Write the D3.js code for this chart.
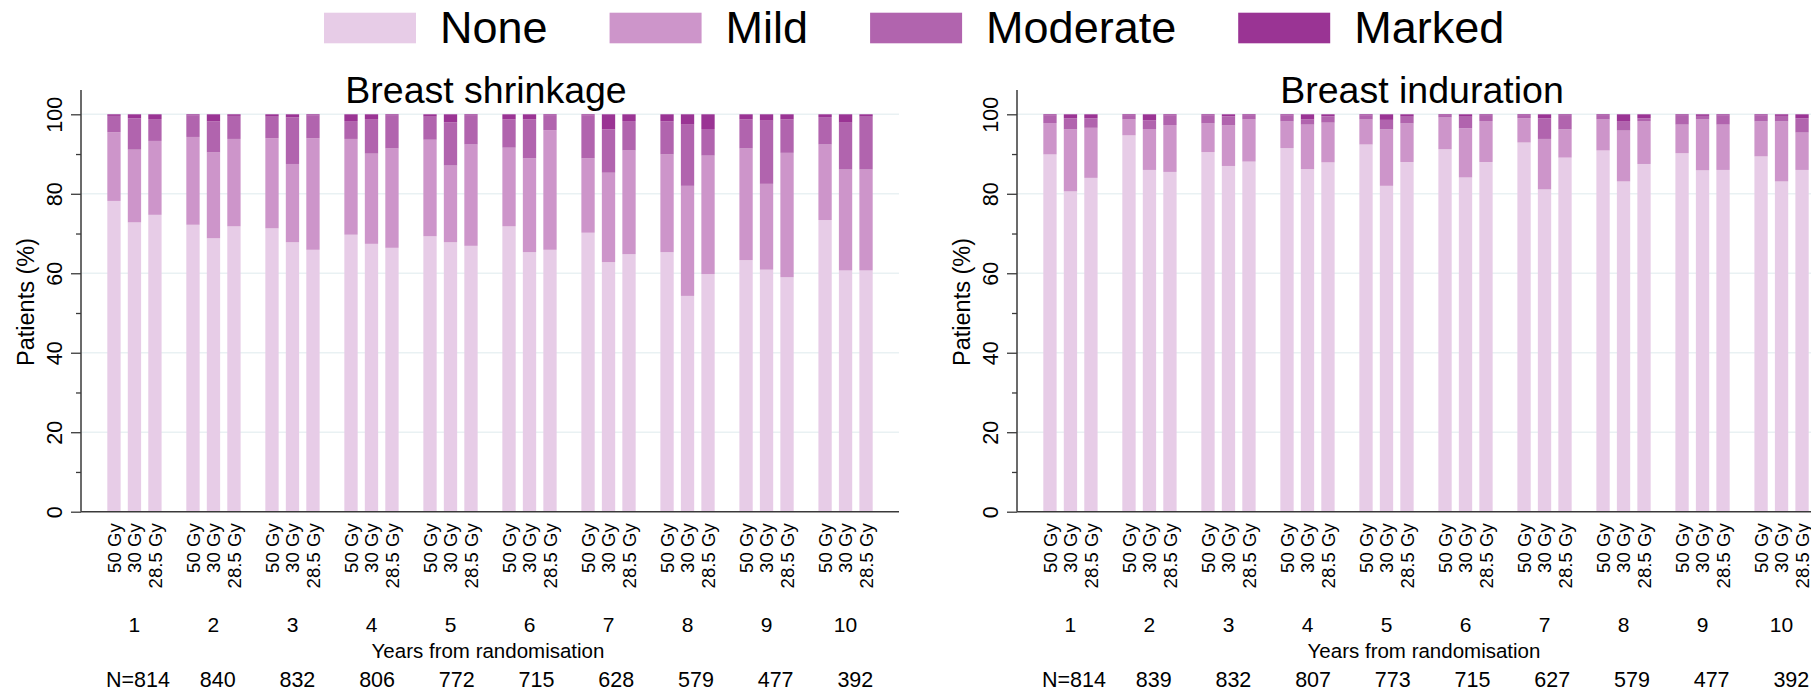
<!DOCTYPE html>
<html>
<head>
<meta charset="utf-8">
<script src="https://cdn.jsdelivr.net/npm/d3@7/dist/d3.min.js"></script>
<style>
  html, body { margin: 0; padding: 0; background: #fff; }
  svg { display: block; }
  text { font-family: "Liberation Sans", Arial, Helvetica, sans-serif; fill: #000; }
</style>
</head>
<body>
<svg id="chart" width="1811" height="691"></svg>
<script>
// ---------- DATA ----------
const years = [1, 2, 3, 4, 5, 6, 7, 8, 9, 10];
const doses = ["50 Gy", "30 Gy", "28.5 Gy"];
const severities = ["None", "Mild", "Moderate", "Marked"];
const severityColors = ["#e7cce7", "#cd95ca", "#b164ae", "#9a3494"];
const yTicks = [0, 20, 40, 60, 80, 100];
const yMinorTicks = [10, 30, 50, 70, 90];
const panelTitles = ["Breast shrinkage", "Breast induration"];
const xAxisTitle = "Years from randomisation";
const yAxisTitle = "Patients (%)";

// Breast shrinkage: % per bar, bars ordered year1 (50, 30, 28.5 Gy), year2 ...
const shrinkNone = [78.2, 72.8, 74.7, 72.2, 68.8, 71.8, 71.3, 67.8, 65.9, 69.7, 67.4, 66.4, 69.3, 67.8, 66.9,
                    71.8, 65.3, 65.9, 70.2, 62.8, 64.8, 65.3, 54.3, 59.8, 63.3, 60.9, 59.0, 73.4, 60.7, 60.7];
const shrinkMild = [17.3, 18.3, 18.6, 22.1, 21.6, 22.0, 22.7, 19.7, 28.1, 24.1, 22.7, 25.0, 24.3, 19.3, 25.5,
                    19.8, 23.6, 30.1, 18.7, 22.5, 26.1, 24.6, 27.7, 29.8, 28.1, 21.6, 31.3, 19.0, 25.4, 25.4];
const shrinkModerate = [4.1, 7.9, 5.5, 5.4, 7.8, 5.8, 5.4, 11.7, 5.7, 4.5, 8.7, 8.4, 5.8, 10.9, 7.4,
                        7.1, 9.8, 3.8, 10.8, 10.9, 7.4, 8.3, 15.4, 6.7, 7.3, 15.9, 8.4, 6.9, 11.8, 13.3];
const shrinkMarked = [0.4, 1.0, 1.2, 0.3, 1.8, 0.4, 0.6, 0.8, 0.3, 1.7, 1.2, 0.2, 0.6, 2.0, 0.2,
                      1.3, 1.3, 0.2, 0.3, 3.8, 1.7, 1.8, 2.6, 3.7, 1.3, 1.6, 1.3, 0.7, 2.1, 0.6];
const shrinkN = ["N=814", "840", "832", "806", "772", "715", "628", "579", "477", "392"];

// Breast induration
const indurNone = [89.9, 80.6, 84.0, 94.7, 86.0, 85.5, 90.5, 87.0, 88.1, 91.5, 86.2, 87.9, 92.4, 82.0, 88.0,
                   91.2, 84.1, 88.0, 92.9, 81.1, 89.1, 90.9, 83.1, 87.5, 90.2, 85.9, 86.0, 89.4, 83.1, 86.0];
const indurMild = [7.9, 15.6, 12.6, 4.0, 10.3, 11.8, 7.2, 10.2, 10.6, 6.7, 11.2, 10.0, 6.3, 14.2, 9.7,
                   8.0, 12.4, 10.3, 6.1, 12.7, 7.1, 7.8, 12.8, 10.8, 7.2, 12.8, 11.4, 8.8, 15.1, 9.4];
const indurModerate = [1.9, 2.8, 2.4, 1.1, 2.2, 2.4, 2.0, 2.3, 1.1, 1.5, 1.3, 1.6, 1.0, 2.4, 1.7,
                       0.6, 2.9, 1.5, 0.8, 5.2, 3.6, 1.1, 2.4, 0.7, 2.4, 0.9, 2.3, 1.5, 1.4, 3.6];
const indurMarked = [0.3, 1.0, 1.0, 0.2, 1.5, 0.3, 0.3, 0.5, 0.2, 0.3, 1.3, 0.5, 0.3, 1.4, 0.6,
                     0.2, 0.6, 0.2, 0.2, 1.0, 0.2, 0.2, 1.7, 1.0, 0.2, 0.4, 0.3, 0.3, 0.4, 1.0];
const indurN = ["N=814", "839", "832", "807", "773", "715", "627", "579", "477", "392"];

// ---------- LAYOUT ----------
const svg = d3.select("#chart");
const FONT = '"Liberation Sans", Arial, Helvetica, sans-serif';
const plotTop = 90, plotBottom = 511.7, plotWidth = 818;
const panelLefts = [81, 1017];

const y = d3.scaleLinear().domain([0, 100]).range([plotBottom, 114.3]);

function buildRows(none, mild, moderate, marked) {
  return none.map((v, i) => ({
    year: years[Math.floor(i / doses.length)],
    dose: doses[i % doses.length],
    None: v, Mild: mild[i], Moderate: moderate[i], Marked: marked[i]
  }));
}

function drawPanel(left, title, rows, nLabels) {
  const g = svg.append("g");
  const x0 = d3.scaleBand().domain(years).range([left, left + plotWidth])
    .paddingInner(0.313).paddingOuter(0.333);
  const x1 = d3.scaleBand().domain(doses).range([0, x0.bandwidth()])
    .paddingInner(0.35).paddingOuter(0);

  // gridlines
  g.append("g").selectAll("line").data(yTicks.filter(t => t > 0)).join("line")
    .attr("x1", left).attr("x2", left + plotWidth)
    .attr("y1", d => y(d)).attr("y2", d => y(d))
    .attr("stroke", "#e9f1f3").attr("stroke-width", 1.6);

  // stacked bars
  const stacked = d3.stack().keys(severities)(rows);
  const color = d3.scaleOrdinal().domain(severities).range(severityColors);
  g.append("g").selectAll("g").data(stacked).join("g")
    .attr("fill", d => color(d.key))
    .selectAll("rect").data(d => d).join("rect")
      .attr("x", d => x0(d.data.year) + x1(d.data.dose))
      .attr("width", x1.bandwidth())
      .attr("y", d => y(d[1]))
      .attr("height", d => y(d[0]) - y(d[1]));

  // y axis
  const yAxis = d3.axisLeft(y).tickValues(yTicks).tickSize(10).tickPadding(0).tickFormat(d3.format("d"));
  const ya = g.append("g").attr("transform", `translate(${left},0)`).call(yAxis);
  ya.select(".domain").remove();
  ya.selectAll(".tick line").attr("stroke", "#3a3a3a").attr("stroke-width", 1.3);
  ya.selectAll(".tick text")
    .attr("x", null).attr("dy", null)
    .attr("transform", "translate(-19.3,0) rotate(-90)")
    .attr("text-anchor", "middle")
    .style("font-family", FONT).style("font-size", "21.5px").attr("fill", "#000");
  const yMinor = d3.axisLeft(y).tickValues(yMinorTicks).tickSize(5).tickFormat("");
  const ym = g.append("g").attr("transform", `translate(${left},0)`).call(yMinor);
  ym.select(".domain").remove();
  ym.selectAll(".tick line").attr("stroke", "#3a3a3a").attr("stroke-width", 1.3);

  // axis lines
  g.append("line").attr("x1", left).attr("x2", left).attr("y1", plotTop).attr("y2", plotBottom)
    .attr("stroke", "#3a3a3a").attr("stroke-width", 1.5);
  g.append("line").attr("x1", left).attr("x2", left + plotWidth).attr("y1", plotBottom).attr("y2", plotBottom)
    .attr("stroke", "#3a3a3a").attr("stroke-width", 1.5);

  // y axis title
  g.append("text")
    .attr("transform", `translate(${left - 46.7},${(y(0) + y(100)) / 2 - 11}) rotate(-90)`)
    .attr("text-anchor", "middle").style("font-size", "23.5px").text(yAxisTitle);

  // panel title
  g.append("text").attr("x", left + plotWidth / 2 - 4).attr("y", 103)
    .attr("text-anchor", "middle").style("font-size", "37.5px").text(title);

  // dose labels (rotated)
  const doseSize = 18.6;
  g.append("g").selectAll("text").data(rows).join("text")
    .attr("transform", d => `translate(${x0(d.year) + x1(d.dose) + x1.bandwidth() / 2 + 0.36 * doseSize},523.3) rotate(-90)`)
    .attr("text-anchor", "end").style("font-size", doseSize + "px").text(d => d.dose);

  // year labels
  g.append("g").selectAll("text").data(years).join("text")
    .attr("x", d => x0(d) + x0.bandwidth() / 2).attr("y", 631.7)
    .attr("text-anchor", "middle").style("font-size", "21px").text(d => d);

  // x title
  g.append("text").attr("x", left + plotWidth / 2 - 2).attr("y", 658.3)
    .attr("text-anchor", "middle").style("font-size", "20.5px").text(xAxisTitle);

  // N labels
  const nPos = d3.scaleLinear().domain([1, 10])
    .range([x0(1) + x0.bandwidth() / 2 + 3.5, x0(10) + x0.bandwidth() / 2 + 9.8]);
  g.append("g").selectAll("text").data(nLabels).join("text")
    .attr("x", (d, i) => nPos(years[i])).attr("y", 686.7)
    .attr("text-anchor", "middle").style("font-size", "21.5px").text(d => d);
}

drawPanel(panelLefts[0], panelTitles[0], buildRows(shrinkNone, shrinkMild, shrinkModerate, shrinkMarked), shrinkN);
drawPanel(panelLefts[1], panelTitles[1], buildRows(indurNone, indurMild, indurModerate, indurMarked), indurN);

// ---------- LEGEND ----------
const legend = svg.append("g");
let lx = 324;
const swW = 92, swH = 30.6, swY = 12.7, legendFont = 45;
severities.forEach((s, i) => {
  legend.append("rect").attr("x", lx).attr("y", swY).attr("width", swW).attr("height", swH)
    .attr("fill", severityColors[i]);
  const t = legend.append("text").attr("x", lx + swW + 24).attr("y", 43.3)
    .style("font-size", legendFont + "px").text(s);
  lx = lx + swW + 24 + t.node().getComputedTextLength() + 62;
});
</script>
</body>
</html>
